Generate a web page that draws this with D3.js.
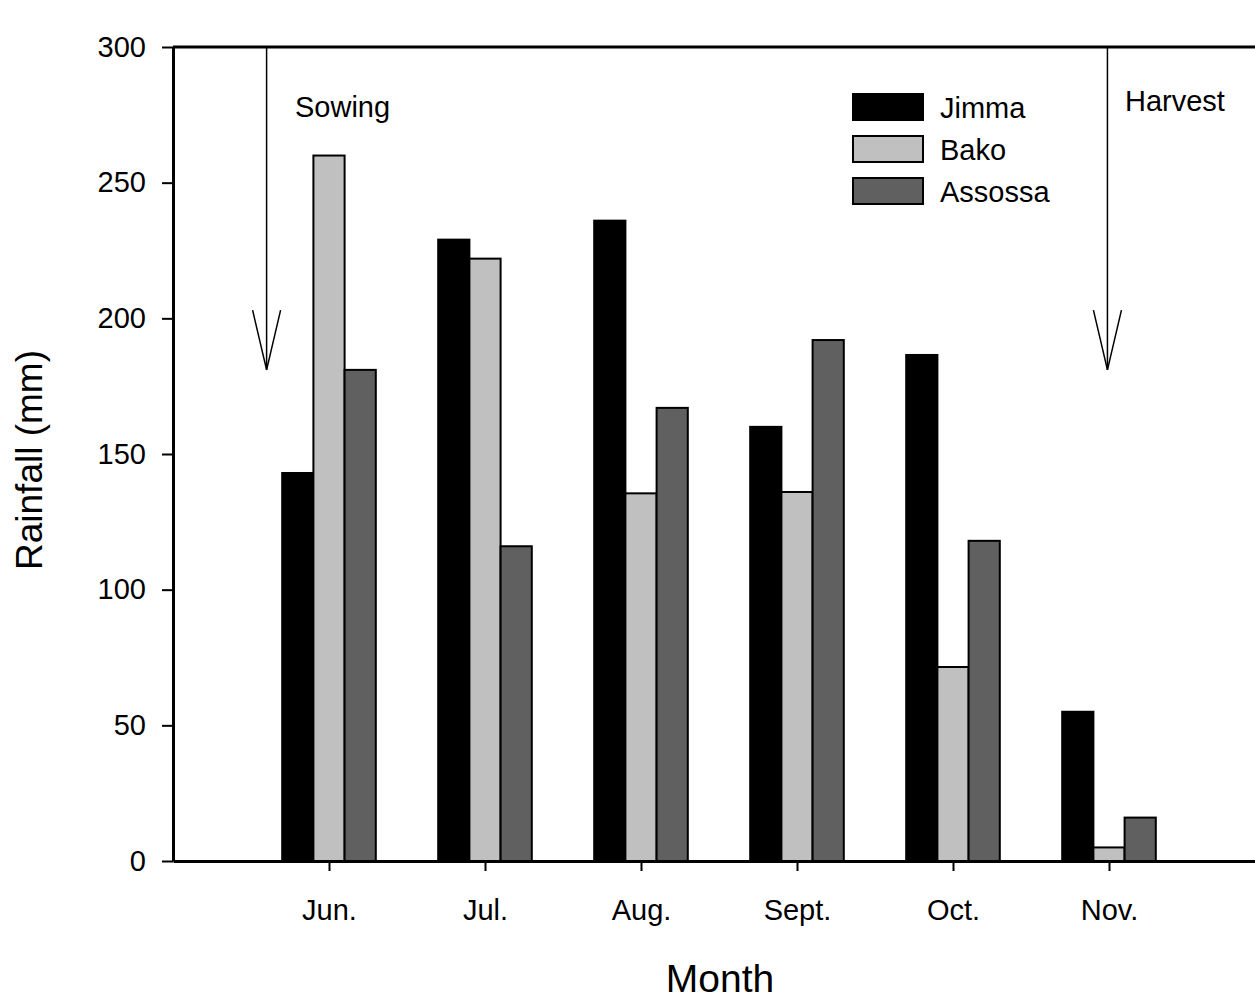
<!DOCTYPE html>
<html><head><meta charset="utf-8">
<script src="https://cdn.jsdelivr.net/npm/d3@7"></script>
<style>body{margin:0;background:#fff;} text{font-family:"Liberation Sans",Arial,sans-serif;}</style>
</head><body>
<svg id="c" width="1255" height="1001"></svg>
<script>
const months = ["Jun.","Jul.","Aug.","Sept.","Oct.","Nov."];
const seriesNames = ["Jimma","Bako","Assossa"];
const jimma   = [143, 229, 236, 160, 186.5, 55];
const bako    = [260, 222, 135.5, 136, 71.5, 5];
const assossa = [181, 116, 167, 192, 118, 16];
const yTicks = [0, 50, 100, 150, 200, 250, 300];
const colors = ["#000000", "#c0c0c0", "#606060"];
const annotations = [{label:"Sowing", pos:0.6, tip:181, arm:203}, {label:"Harvest", pos:5.99, tip:181, arm:203}];

const svg = d3.select("#c");
const x = d3.scaleLinear().domain([0, 7]).range([173, 1265]);
const y = d3.scaleLinear().domain([0, 300]).range([861, 47]);
const series = [jimma, bako, assossa];
const barW = 0.2;
const offs = [-0.2, 0, 0.2];

// bars
series.forEach((vals, s) => {
  svg.append("g").selectAll("rect").data(vals).join("rect")
    .attr("x", (d,i) => x(i + 1 + offs[s] - barW/2))
    .attr("width", x(barW) - x(0))
    .attr("y", d => y(d))
    .attr("height", d => y(0) - y(d))
    .attr("fill", colors[s])
    .attr("stroke", "#000")
    .attr("stroke-width", 2);
});

// axes
const yAxis = svg.append("g").attr("transform", `translate(${x(0)},0)`)
  .call(d3.axisLeft(y).tickValues(yTicks).tickSize(11).tickPadding(16).tickSizeOuter(0));
yAxis.select(".domain").attr("stroke-width", 3);
yAxis.selectAll(".tick line").attr("stroke-width", 2);
yAxis.selectAll("text").attr("font-size", 29).attr("fill", "#000");

const xAxis = svg.append("g").attr("transform", `translate(0,${y(0)})`)
  .call(d3.axisBottom(x).tickValues([1,2,3,4,5,6]).tickFormat((d,i) => months[i]).tickSize(10).tickPadding(28).tickSizeOuter(0));
xAxis.select(".domain").attr("stroke-width", 3);
xAxis.selectAll(".tick line").attr("stroke-width", 2);
xAxis.selectAll("text").attr("font-size", 29).attr("fill", "#000");

// top line
svg.append("line").attr("x1", x(0)).attr("x2", x(7)).attr("y1", y(300)).attr("y2", y(300))
  .attr("stroke", "#000").attr("stroke-width", 3);

// arrows
annotations.forEach(a => {
  const g = svg.append("g").attr("stroke", "#000").attr("stroke-width", 1.5).attr("fill", "none");
  g.append("line").attr("x1", x(a.pos)).attr("x2", x(a.pos)).attr("y1", y(300)).attr("y2", y(a.tip));
  g.append("path").attr("d", d3.line()([[x(a.pos)-14, y(a.arm)], [x(a.pos), y(a.tip)], [x(a.pos)+14, y(a.arm)]]));
});
svg.append("text").attr("x", 295).attr("y", 117).attr("font-size", 29).text(annotations[0].label);
svg.append("text").attr("x", 1125).attr("y", 111).attr("font-size", 29).text(annotations[1].label);

// legend
const leg = svg.append("g").attr("transform", "translate(853,94)");
seriesNames.forEach((n, i) => {
  leg.append("rect").attr("x", 0).attr("y", i*42).attr("width", 70).attr("height", 26)
    .attr("fill", colors[i]).attr("stroke", "#000").attr("stroke-width", 2);
  leg.append("text").attr("x", 87).attr("y", i*42 + 24).attr("font-size", 29).text(n);
});

// axis titles
svg.append("text").attr("x", 720).attr("y", 992).attr("text-anchor", "middle").attr("font-size", 39).text("Month");
svg.append("text").attr("transform", "translate(42,460) rotate(-90)").attr("text-anchor", "middle").attr("font-size", 37).text("Rainfall (mm)");
</script>
</body></html>
